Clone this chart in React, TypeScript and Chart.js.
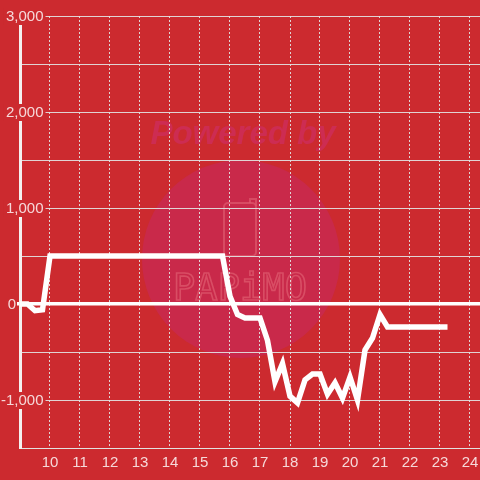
import React, { useEffect, useRef } from 'react';
import { Chart, registerables } from 'chart.js';

Chart.register(...registerables);

// ---- data ----
const hours = [
  9, 9.25, 9.5, 9.75,
  10, 10.25, 10.5, 10.75, 11, 11.25, 11.5, 11.75, 12, 12.25, 12.5, 12.75,
  13, 13.25, 13.5, 13.75, 14, 14.25, 14.5, 14.75, 15, 15.25, 15.5, 15.75,
  16, 16.25, 16.5, 16.75, 17, 17.25, 17.5, 17.75, 18, 18.25, 18.5, 18.75,
  19, 19.25, 19.5, 19.75, 20, 20.25, 20.5, 20.75, 21, 21.25,
  21.5, 21.75, 22, 22.25, 22.5, 22.75, 23, 23.25,
];
const profit = [
  0, 0, -70, -60,
  500, 500, 500, 500, 500, 500, 500, 500, 500, 500, 500, 500,
  500, 500, 500, 500, 500, 500, 500, 500, 500, 500, 500, 500,
  80, -110, -145, -145, -145, -380, -810, -620, -960, -1030, -790, -730,
  -730, -940, -820, -980, -760, -1000, -480, -355, -110, -240,
  -240, -240, -240, -240, -240, -240, -240, -240,
];
const xTickHours = [10, 11, 12, 13, 14, 15, 16, 17, 18, 19, 20, 21, 22, 23, 24];
const yLabelValues = [3000, 2000, 1000, 0, -1000];
const yLabelTexts = ['3,000', '2,000', '1,000', '0', '-1,000'];

// ---- styles ----
const BG = '#cc2a2f';
const TEXT = 'rgba(255,255,255,0.82)';
const GRID = 'rgba(226,226,226,0.92)';
const FONT = '"Liberation Sans", Arial, sans-serif';

const backgroundPlugin = {
  id: 'bgWatermark',
  beforeDraw(chart: any) {
    const { ctx, width, height } = chart;
    ctx.save();
    ctx.fillStyle = BG;
    ctx.fillRect(0, 0, width, height);
    // watermark circle
    ctx.beginPath();
    ctx.arc(241, 259, 99, 0, Math.PI * 2);
    ctx.fillStyle = '#c9294a';
    ctx.fill();
    // "Powered by"
    ctx.font = `italic bold 33px ${FONT}`;
    ctx.textAlign = 'center';
    ctx.textBaseline = 'middle';
    ctx.fillStyle = '#cd2c52';
    ctx.fillText('Powered by', 243, 135);
    // logo icon
    ctx.strokeStyle = 'rgba(222,90,110,0.7)';
    ctx.lineWidth = 2;
    ctx.beginPath();
    ctx.roundRect(224, 203, 32, 53, 4);
    ctx.stroke();
    ctx.beginPath();
    ctx.moveTo(250, 203);
    ctx.lineTo(250, 199);
    ctx.lineTo(256, 199);
    ctx.lineTo(256, 206);
    ctx.stroke();
    // logo text
    ctx.font = `36px "DejaVu Sans Mono", monospace`;
    const w = ctx.measureText('PAPiMO').width;
    ctx.translate(240, 290);
    ctx.scale(134 / w, 1.05);
    ctx.lineWidth = 1.6;
    ctx.strokeStyle = 'rgba(222,90,110,0.75)';
    ctx.strokeText('PAPiMO', 0, 0);
    ctx.restore();
  },
};

const yLabelPlugin = {
  id: 'yLabels',
  beforeDatasetsDraw(chart: any) {
    const { ctx } = chart;
    const y = chart.scales.y;
    ctx.save();
    ctx.font = `15px ${FONT}`;
    ctx.textAlign = 'right';
    ctx.textBaseline = 'middle';
    yLabelValues.forEach((v, i) => {
      const text = yLabelTexts[i];
      const py = y.getPixelForValue(v);
      const right = v === 0 ? 16 : 43.5;
      const w = ctx.measureText(text).width;
      if (v !== 0) {
        ctx.fillStyle = BG;
        ctx.fillRect(right - w - 2, py - 8, w + 4, 17);
      }
      ctx.fillStyle = TEXT;
      ctx.fillText(text, right, py + 1);
    });
    ctx.restore();
  },
};

export default function App() {
  const ref = useRef<HTMLCanvasElement>(null);
  useEffect(() => {
    if (!ref.current) return;
    Chart.defaults.font.family = FONT;
    const chart = new Chart(ref.current, {
      type: 'line',
      data: {
        datasets: [
          {
            data: hours.map((h, i) => ({ x: h, y: profit[i] })),
            borderColor: '#ffffff',
            borderWidth: 5.5,
            pointRadius: 0,
            pointHoverRadius: 0,
            tension: 0,
            fill: false,
          },
        ],
      },
      options: {
        responsive: false,
        animation: false,
        layout: { padding: { top: 16, left: 0, right: 0, bottom: 0 } },
        plugins: { legend: { display: false }, tooltip: { enabled: false } },
        scales: {
          x: {
            type: 'linear',
            min: 9,
            max: 9 + 460 / 30,
            afterBuildTicks: (s: any) => {
              s.ticks = xTickHours.map((v) => ({ value: v }));
            },
            afterFit: (s: any) => {
              s.height = 32;
              s.paddingLeft = 0;
              s.paddingRight = 0;
            },
            grid: { color: GRID, lineWidth: 1, drawTicks: false },
            border: { display: true, color: GRID, width: 1, dash: [2, 2] },
            ticks: {
              color: TEXT,
              font: { size: 15 },
              padding: 6,
              maxRotation: 0,
              autoSkip: false,
              callback: (v: any) => String(v),
            },
          },
          y: {
            type: 'linear',
            min: -1500,
            max: 3000,
            ticks: { stepSize: 500, display: false },
            afterFit: (s: any) => {
              s.width = 20;
              s.paddingTop = 0;
              s.paddingBottom = 0;
            },
            grid: {
              color: (c: any) => (c.tick && c.tick.value === 0 ? '#ffffff' : GRID),
              lineWidth: (c: any) => (c.tick && c.tick.value === 0 ? 3.5 : 1),
              drawTicks: true,
              tickLength: 3,
              tickWidth: 3.5,
              tickColor: (c: any) => (c.tick && c.tick.value === 0 ? '#ffffff' : 'rgba(0,0,0,0)'),
            },
            border: { display: true, color: '#f4f0f0', width: 3 },
          },
        },
      },
      plugins: [backgroundPlugin, yLabelPlugin],
    } as any);
    return () => chart.destroy();
  }, []);
  return (
    <div style={{ position: 'absolute', left: 0, top: 0, width: 480, height: 480, background: BG }}>
      <canvas ref={ref} width={480} height={480} style={{ display: 'block' }} />
    </div>
  );
}
